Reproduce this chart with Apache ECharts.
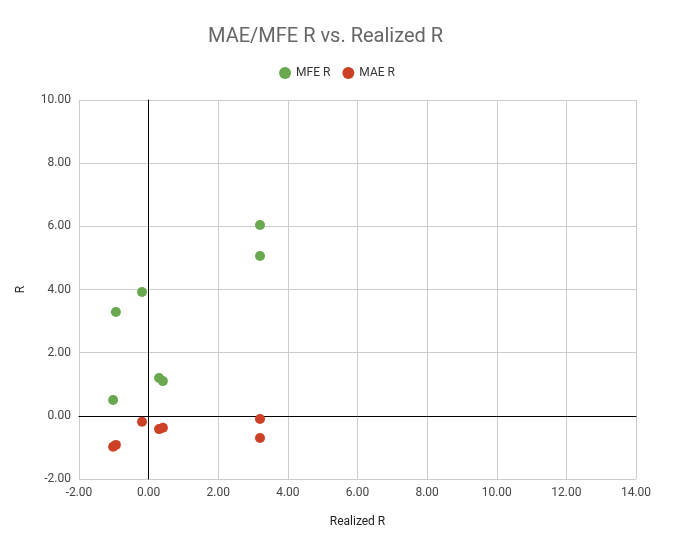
<!DOCTYPE html>
<html><head><meta charset="utf-8">
<script src="https://cdn.jsdelivr.net/npm/echarts@6/dist/echarts.min.js"></script>
<style>html,body{margin:0;padding:0;background:#fff}#c{width:674px;height:552px}</style>
</head><body><div id="c"></div>
<script>
const mfeX = [3.2, 3.2, -0.19, -0.94, 0.3, 0.41, -1.02];
const mfeY = [6.04, 5.06, 3.92, 3.29, 1.2, 1.1, 0.5];
const maeX = [3.2, 3.2, -0.19, 0.3, 0.41, -1.02, -0.94];
const maeY = [-0.1, -0.7, -0.19, -0.42, -0.38, -0.98, -0.92];
const zip = (a, b) => a.map((v, i) => [v, b[i]]);
const chart = echarts.init(document.getElementById('c'));
const ax = {
  axisLine: {show: true, onZero: true, lineStyle: {color: '#000'}},
  axisTick: {show: false},
  splitLine: {lineStyle: {color: '#ccc'}},
  axisLabel: {color: '#444', fontSize: 12, formatter: v => v.toFixed(2), fontFamily: 'Roboto'},
  nameTextStyle: {color: '#222', fontSize: 12, fontFamily: 'Roboto'}
};
chart.setOption({
  title: {text: 'MAE/MFE R vs. Realized R', left: 203, top: 22,
    textStyle: {color: '#666', fontSize: 20, fontWeight: 'normal', fontFamily: 'Roboto'}},
  legend: {top: 62, left: 'center', itemGap: 12, icon: 'circle', itemWidth: 12, itemHeight: 12,
    textStyle: {color: '#333', fontSize: 12, fontFamily: 'Roboto'}},
  grid: {left: 79, right: 38, top: 100, bottom: 73},
  xAxis: Object.assign({}, ax, {type: 'value', min: -2, max: 14, interval: 2,
    name: 'Realized R', nameLocation: 'middle', nameGap: 37}),
  yAxis: Object.assign({}, ax, {type: 'value', min: -2, max: 10, interval: 2,
    name: 'R', nameLocation: 'middle', nameGap: 52}),
  series: [
    {name: 'MFE R', type: 'scatter', symbolSize: 10, itemStyle: {color: '#6aa84f', opacity: 1}, data: zip(mfeX, mfeY)},
    {name: 'MAE R', type: 'scatter', symbolSize: 10, itemStyle: {color: '#cc4125', opacity: 1}, data: zip(maeX, maeY)}
  ]
});
</script></body></html>
